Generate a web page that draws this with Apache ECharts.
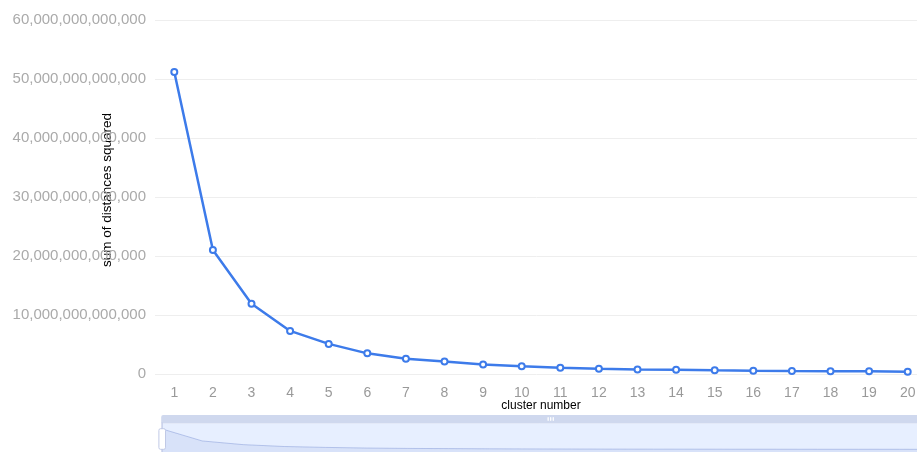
<!DOCTYPE html>
<html>
<head>
<meta charset="utf-8">
<script src="https://cdn.jsdelivr.net/npm/echarts@6/dist/echarts.min.js"></script>
<style>
html,body{margin:0;padding:0;background:#fff;}
#main{width:917px;height:452px;}
</style>
</head>
<body>
<div id="main"></div>
<script>
var categories = ['1','2','3','4','5','6','7','8','9','10','11','12','13','14','15','16','17','18','19','20'];
var sse = [51.2e12, 21.0e12, 11.9e12, 7.3e12, 5.1e12, 3.5e12, 2.6e12, 2.1e12, 1.6e12, 1.3e12, 1.07e12, 0.9e12, 0.76e12, 0.72e12, 0.63e12, 0.56e12, 0.51e12, 0.48e12, 0.45e12, 0.40e12];
var yTicks = [0, 10e12, 20e12, 30e12, 40e12, 50e12, 60e12];

var chart = echarts.init(document.getElementById('main'));
chart.setOption({
  animation: false,
  grid: { left: 155, right: -10, top: 20, bottom: 78, containLabel: false, outerBoundsMode: 'none' },
  xAxis: {
    type: 'category',
    data: categories,
    boundaryGap: true,
    name: 'cluster number',
    nameLocation: 'middle',
    nameGap: 26,
    nameMoveOverlap: false,
    nameTextStyle: { color: '#000', fontSize: 12, fontFamily: 'Arial, Liberation Sans, sans-serif' },
    axisLine: { show: false },
    axisTick: { show: false },
    axisLabel: { color: '#999', fontSize: 14, margin: 12 }
  },
  yAxis: {
    type: 'value',
    min: yTicks[0],
    max: yTicks[yTicks.length - 1],
    interval: yTicks[1] - yTicks[0],
    name: 'sum of distances squared',
    nameLocation: 'middle',
    nameGap: 41,
    nameRotate: 90,
    nameMoveOverlap: false,
    nameTextStyle: { color: '#000', fontSize: 13.5, fontFamily: 'Arial, Liberation Sans, sans-serif', padding: [0, 0, 0, 14] },
    axisLine: { show: false },
    axisTick: { show: false },
    splitLine: { lineStyle: { color: '#eee' } },
    axisLabel: {
      color: '#aaa', fontSize: 15, margin: 9,
      formatter: function (v) { return v.toLocaleString('en-US'); }
    }
  },
  dataZoom: [{
    type: 'slider',
    xAxisIndex: 0,
    start: 0, end: 100,
    left: 158, right: -20,
    top: 415, height: 33,
    showDetail: false,
    moveHandleSize: 8,
    moveHandleStyle: { color: '#cfd8ee', opacity: 1 }
  }],
  series: [{
    type: 'line',
    data: sse,
    symbol: 'emptyCircle',
    symbolSize: 6,
    lineStyle: { width: 2.5, color: '#3d7bea' },
    itemStyle: { color: '#3d7bea', borderWidth: 2 }
  }]
});
</script>
</body>
</html>
